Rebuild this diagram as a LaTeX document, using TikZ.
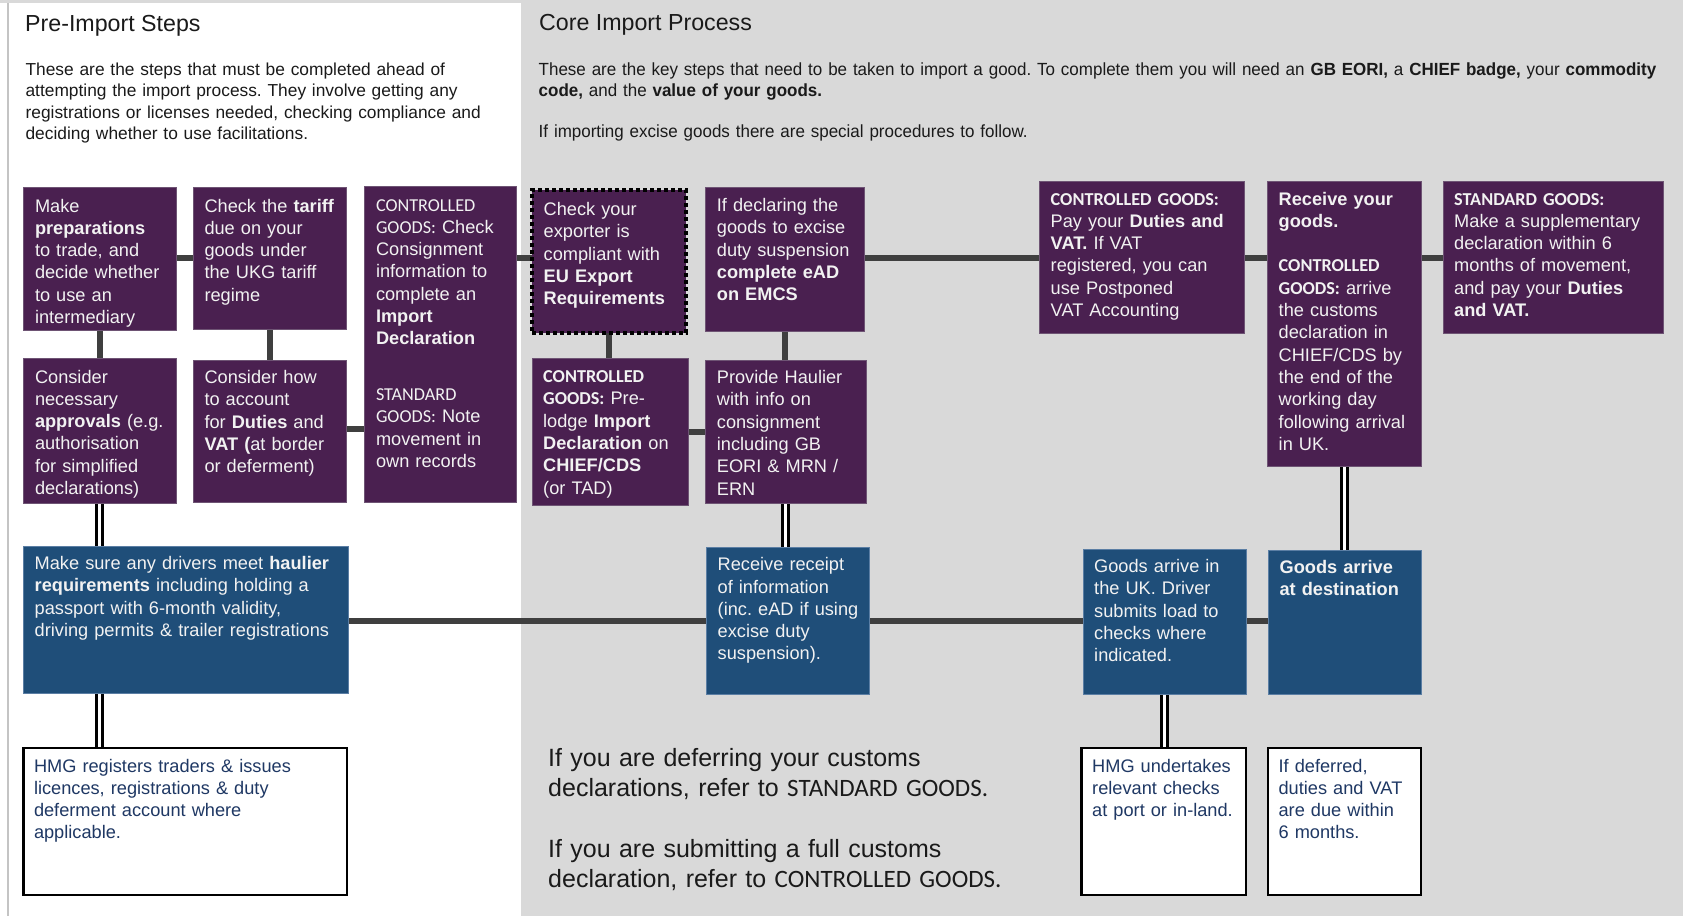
\documentclass[tikz,border=0pt]{standalone}
\usepackage{fontspec}
\setmainfont{Liberation Sans}
\newfontfamily\carl{Carlito}
\newfontfamily\narrowsans[FakeStretch=0.965]{Liberation Sans}
\definecolor{purp}{HTML}{4A2050}
\definecolor{purpedge}{HTML}{6E5474}
\definecolor{bluebox}{HTML}{1F4E79}
\definecolor{blueedge}{HTML}{5B7EA4}
\definecolor{bggray}{HTML}{D9D9D9}
\definecolor{edgegray}{HTML}{C4C4C4}
\definecolor{linegray}{HTML}{3F3F3F}
\definecolor{boxtxt}{HTML}{F2F2F2}
\definecolor{navytxt}{HTML}{1F3864}
\definecolor{paratxt}{HTML}{1A1A1A}
\pgfdeclarelayer{bg}\pgfdeclarelayer{lines}\pgfsetlayers{bg,lines,main}
\newcommand\bxfont{\fontsize{18.2}{22.3}\selectfont}
\tikzset{
  boxbase/.style={anchor=north west, inner sep=0pt, outer sep=0pt},
  pbox/.style={boxbase, fill=purp, draw=purpedge, line width=0.8pt},
  bbox/.style={boxbase, fill=bluebox, draw=blueedge, line width=0.8pt},
  wbox/.style={boxbase, fill=white, draw=black, line width=2.5pt},
  dotbox/.style={boxbase, fill=purp, draw=black, line width=4pt, dash pattern=on 4pt off 3pt},
  btext/.style={anchor=base west, inner sep=0pt, align=left, text=boxtxt, font=\bxfont},
  wtext/.style={anchor=base west, inner sep=0pt, align=left, text=navytxt, font=\bxfont},
  ptext/.style={anchor=base west, inner sep=0pt, align=left, text=paratxt},
  conn/.style={draw=linegray, line width=6pt},
  dbl/.style={draw=black, line width=3pt, double=white, double distance=3pt},
}
\newcommand\mkbox[6]{\pgfmathsetmacro\mybw{#5-#3}\pgfmathsetmacro\mybh{#6-#4}%
  \node[#2, minimum width=\mybw pt, minimum height=\mybh pt] (#1) at (#3,#4) {};}
\newcommand\mktext[6]{\node[#2, text width=#5pt] at ([xshift=#3pt, yshift=-#4pt]#1.north west) {#6};}
\begin{document}
\frenchspacing
\hyphenpenalty=10000
\begin{tikzpicture}[x=1pt,y=-1pt]
\useasboundingbox (0,0) rectangle (1683,916);
\begin{pgfonlayer}{bg}
\fill[bggray] (0,0) rectangle (1683,916);
\fill[white] (0,3) rectangle (521,916);
\draw[edgegray, line width=2pt] (7.5,3) -- (7.5,916);
\end{pgfonlayer}

% titles and paragraphs
\node[ptext, font=\fontsize{23.2}{27}\selectfont] (t1) at (25,31.5) {Pre-Import Steps};
\node[ptext, font=\fontsize{23.2}{27}\selectfont] (t2) at (539,30.5) {Core Import Process};
\node[ptext, font=\fontsize{17.35}{21.3}\selectfont, text width=490pt] (p1) at (25.4,75.5)
 {These are the steps that must be completed ahead of\\attempting the import process. They involve getting any\\registrations or licenses needed, checking compliance and\\deciding whether to use facilitations.};
\node[ptext, font=\narrowsans\fontsize{17.6}{21.3}\selectfont, text width=1140pt] (p2) at (538.5,75.5)
 {These are the key steps that need to be taken to import a good. To complete them you will need an \textbf{GB EORI,} a \textbf{CHIEF badge,} your \textbf{commodity}\\\textbf{code,} and the \textbf{value of your goods.}\\[19.5pt]If importing excise goods there are special procedures to follow.};

% boxes
\mkbox{A1}{pbox}{23.5}{187.5}{176}{330}
\mkbox{A2}{pbox}{193}{187.5}{346}{329}
\mkbox{A3}{pbox}{364.5}{186.5}{516}{502}
\mkbox{A4}{pbox}{23.5}{358.5}{176}{503.5}
\mkbox{A5}{pbox}{193}{360}{346}{502}
\mkbox{B1}{dotbox}{532}{190}{686}{333}
\mkbox{B2}{pbox}{705}{187}{864}{331}
\mkbox{B3}{pbox}{532}{358}{688}{505}
\mkbox{B4}{pbox}{705}{360}{866}{503}
\mkbox{C1}{pbox}{1039.5}{181}{1244.5}{333}
\mkbox{C2}{pbox}{1267.5}{181}{1421.5}{466}
\mkbox{C3}{pbox}{1443}{181}{1663}{333}
\mkbox{D1}{bbox}{23.5}{546}{348}{693.5}
\mkbox{D2}{bbox}{706}{547}{869}{694}
\mkbox{D3}{bbox}{1083}{549}{1246.5}{694}
\mkbox{D4}{bbox}{1268}{550.5}{1421}{694}
\mkbox{E1}{wbox}{23.5}{748}{347}{895}
\mkbox{E2}{wbox}{1081.5}{748}{1246}{895}
\mkbox{E3}{wbox}{1268}{748}{1421}{895}

% texts
\mktext{A1}{btext}{11.3}{24.5}{145}{Make\\\textbf{preparations}\\to trade, and\\decide whether\\to use an\\intermediary}
\mktext{A2}{btext}{11.3}{24.5}{145}{Check the \textbf{tariff}\\due on your\\goods under\\the UKG tariff\\regime}
\mktext{A3}{btext}{11.3}{24.5}{145}{{\carl CONTROLLED}\\{\carl GOODS:} Check\\Consignment\\information to\\complete an\\\textbf{Import}\\\textbf{Declaration}\\[33.4pt]{\carl STANDARD}\\{\carl GOODS:} Note\\movement in\\own records}
\mktext{A4}{btext}{11.3}{24.5}{145}{Consider\\necessary\\\textbf{approvals} (e.g.\\authorisation\\for simplified\\declarations)}
\mktext{A5}{btext}{11.3}{23.5}{145}{Consider how\\to account\\for \textbf{Duties} and\\\textbf{VAT (}at border\\or deferment)}
\mktext{B1}{btext}{11.5}{25.5}{145}{Check your\\exporter is\\compliant with\\\textbf{EU Export}\\\textbf{Requirements}}
\mktext{B2}{btext}{11.7}{24.5}{150}{If declaring the\\goods to excise\\duty suspension\\\textbf{complete eAD}\\\textbf{on EMCS}}
\mktext{B3}{btext}{11}{24.5}{150}{{\carl\bfseries CONTROLLED}\\{\carl\bfseries GOODS:} Pre-\\lodge \textbf{Import}\\\textbf{Declaration} on\\\textbf{CHIEF/CDS}\\(or TAD)}
\mktext{B4}{btext}{11.7}{23.5}{150}{Provide Haulier\\with info on\\consignment\\including GB\\EORI \& MRN /\\ERN}
\mktext{C1}{btext}{11}{24}{195}{{\carl\bfseries CONTROLLED GOODS:}\\Pay your \textbf{Duties and}\\\textbf{VAT.} If VAT\\registered, you can\\use Postponed\\VAT Accounting}
\mktext{C2}{btext}{11}{24}{148}{\textbf{Receive your}\\\textbf{goods.}\\[22.3pt]{\carl\bfseries CONTROLLED}\\{\carl\bfseries GOODS:} arrive\\the customs\\declaration in\\CHIEF/CDS by\\the end of the\\working day\\following arrival\\in UK.}
\mktext{C3}{btext}{11}{24}{212}{{\carl\bfseries STANDARD GOODS:}\\Make a supplementary\\declaration within 6\\months of movement,\\and pay your \textbf{Duties}\\\textbf{and VAT.}}
\mktext{D1}{btext}{11}{23.5}{318}{Make sure any drivers meet \textbf{haulier}\\\textbf{requirements} including holding a\\passport with 6-month validity,\\driving permits \& trailer registrations}
\mktext{D2}{btext}{11.5}{23.7}{158}{Receive receipt\\of information\\(inc. eAD if using\\excise duty\\suspension).}
\mktext{D3}{btext}{11}{23.4}{158}{Goods arrive in\\the UK. Driver\\submits load to\\checks where\\indicated.}
\mktext{D4}{btext}{11.4}{22.6}{148}{\textbf{Goods arrive}\\\textbf{at destination}}
\mktext{E1}{wtext}{10.3}{24}{318}{HMG registers traders \& issues\\licences, registrations \& duty\\deferment account where\\applicable.}
\mktext{E2}{wtext}{10.5}{24}{160}{HMG undertakes\\relevant checks\\at port or in-land.}
\mktext{E3}{wtext}{10.4}{24}{150}{If deferred,\\duties and VAT\\are due within\\6 months.}

\node[ptext, font=\fontsize{25}{30}\selectfont, text width=520pt] (note) at (548,766)
 {If you are deferring your customs\\declarations, refer to {\carl STANDARD GOODS.}\\[31.7pt]If you are submitting a full customs\\declaration, refer to {\carl CONTROLLED GOODS.}};

% connectors
\coordinate (row1) at (0,258);
\coordinate (row2) at (0,429);
\coordinate (rowd) at (0,620.5);
\begin{pgfonlayer}{lines}
\draw[conn] (A1.east |- row1) -- (A2.west |- row1);
\draw[conn] (A3.east |- row1) -- (B1.west |- row1);
\draw[conn] (B2.east |- row1) -- (C1.west |- row1);
\draw[conn] (C1.east |- row1) -- (C2.west |- row1);
\draw[conn] (C2.east |- row1) -- (C3.west |- row1);
\draw[conn] (A5.east |- row2) -- (A3.west |- row2);
\draw[conn] (B3.east) -- (B3.east -| B4.west);
\draw[conn] (A1.south) -- (A1.south |- A4.north);
\draw[conn] (A2.south) -- (A2.south |- A5.north);
\draw[conn] (B1.south) -- (B1.south |- B3.north);
\draw[conn] (B2.south) -- (B2.south |- B4.north);
\draw[conn] (D1.east |- rowd) -- (D2.west |- rowd);
\draw[conn] (D2.east |- rowd) -- (D3.west |- rowd);
\draw[conn] (D3.east |- rowd) -- (D4.west |- rowd);
\draw[dbl] (A4.south) -- (A4.south |- D1.north);
\draw[dbl] (A4.south |- D1.south) -- (A4.south |- E1.north);
\draw[dbl] (B4.south) -- (B4.south |- D2.north);
\draw[dbl] (C2.south) -- (C2.south |- D4.north);
\draw[dbl] (D3.south) -- (D3.south |- E2.north);
\end{pgfonlayer}
\end{tikzpicture}
\end{document}
